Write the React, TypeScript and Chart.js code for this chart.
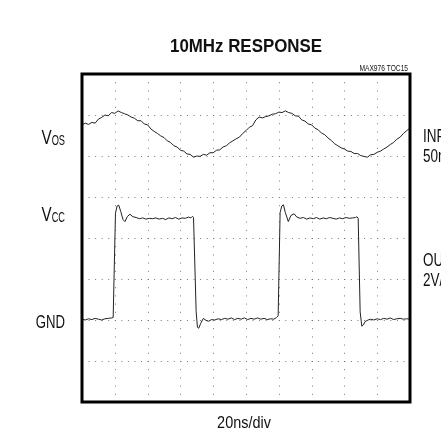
import React, { useEffect, useRef } from "react";
import { Chart, registerables } from "chart.js";

Chart.register(...registerables);

const sineStep = 0.1;
const sineY = [
  6.76, 6.8, 6.77, 6.82, 6.8, 6.9, 6.94, 7.0, 6.98, 7.06,
  7.04, 7.1, 7.06, 7.03, 7.0, 6.95, 6.92, 6.86, 6.86, 6.78,
  6.76, 6.66, 6.6, 6.55, 6.49, 6.45, 6.37, 6.33, 6.25, 6.22,
  6.14, 6.12, 6.05, 6.04, 5.97, 6.0, 5.99, 6.04, 6.02, 6.08,
  6.08, 6.14, 6.15, 6.22, 6.25, 6.32, 6.37, 6.42, 6.46, 6.55,
  6.62, 6.7, 6.74, 6.88, 6.95, 6.93, 6.96, 6.98, 7.02, 7.03,
  7.07, 7.06, 7.1, 7.06, 7.04, 6.98, 6.97, 6.88, 6.85, 6.78,
  6.76, 6.68, 6.64, 6.56, 6.52, 6.44, 6.38, 6.3, 6.25, 6.2,
  6.17, 6.12, 6.11, 6.06, 6.06, 6.01, 5.99, 5.97, 6.03, 6.04,
  6.09, 6.12, 6.17, 6.22, 6.28, 6.33, 6.41, 6.46, 6.55, 6.62,
  6.68,
];

const squareX = [
  0.0, 0.1, 0.2, 0.3, 0.4, 0.5, 0.6, 0.7, 0.8, 0.9, 0.95,
  1.02, 1.07, 1.12, 1.18, 1.25, 1.31, 1.38, 1.46, 1.55, 1.65,
  1.75, 1.85, 1.95, 2.05, 2.15, 2.25, 2.35, 2.45, 2.55, 2.65,
  2.75, 2.85, 2.95, 3.05, 3.15, 3.25, 3.32, 3.37, 3.4,
  3.48, 3.52, 3.56, 3.62, 3.7, 3.78, 3.86, 3.95, 4.05, 4.15,
  4.25, 4.35, 4.45, 4.55, 4.65, 4.75, 4.85, 4.95, 5.05, 5.15,
  5.25, 5.35, 5.45, 5.55, 5.65, 5.75, 5.85, 5.93, 5.98,
  6.04, 6.09, 6.14, 6.2, 6.29, 6.37, 6.47, 6.55, 6.65, 6.75,
  6.85, 6.95, 7.05, 7.15, 7.25, 7.35, 7.45, 7.55, 7.65, 7.75,
  7.85, 7.95, 8.05, 8.15, 8.25, 8.34, 8.38, 8.42,
  8.48, 8.53, 8.58, 8.63, 8.72, 8.8, 8.9, 9.0, 9.1, 9.2,
  9.3, 9.4, 9.5, 9.6, 9.7, 9.8, 9.9, 10.0,
];
const squareY = [
  2.02, 2.0, 2.03, 2.01, 2.04, 2.02, 2.0, 2.03, 2.04, 2.05, 2.06,
  4.6, 4.78, 4.8, 4.65, 4.45, 4.4, 4.52, 4.58, 4.52, 4.5,
  4.47, 4.49, 4.46, 4.48, 4.47, 4.49, 4.46, 4.48, 4.45, 4.49,
  4.47, 4.5, 4.46, 4.49, 4.48, 4.51, 4.49, 4.53, 4.5,
  2.2, 1.82, 1.8, 1.92, 2.04, 1.99, 1.97, 2.01, 2.0, 2.03,
  2.01, 2.04, 2.02, 2.05, 2.01, 2.04, 2.02, 2.05, 2.01, 2.04,
  2.02, 2.05, 2.02, 2.04, 2.01, 2.03, 2.02, 2.06, 2.1,
  4.62, 4.78, 4.81, 4.62, 4.4, 4.55, 4.59, 4.51, 4.48, 4.5,
  4.46, 4.49, 4.47, 4.5, 4.46, 4.49, 4.47, 4.5, 4.48, 4.46,
  4.49, 4.47, 4.5, 4.48, 4.49, 4.5, 4.52, 4.48,
  2.2, 1.85, 1.88, 1.96, 2.0, 2.02, 2.0, 2.03, 2.01, 2.04,
  2.02, 2.05, 2.01, 2.03, 2.04, 2.02, 2.03, 2.02,
];

const xDivisions = 10;
const yDivisions = 8;

const titleText = "10MHz RESPONSE";
const codeText = "MAX976 TOC15";
const xLabelText = "20ns/div";

const FONT = '"Liberation Sans", Arial, sans-serif';

function cond(ctx: CanvasRenderingContext2D, text: string, x: number, y: number, size: number, sx: number, align: CanvasTextAlign, weight = "normal") {
  ctx.font = `${weight} ${size}px ${FONT}`;
  const w = ctx.measureText(text).width * sx;
  ctx.textAlign = align;
  ctx.fillText(text, x, y, w);
  return w;
}

// dotted vertical division lines, drawn through the x scale
const vGridPlugin = {
  id: "vGridPlugin",
  beforeDatasetsDraw(chart: any) {
    const ctx: CanvasRenderingContext2D = chart.ctx;
    const a = chart.chartArea;
    const xs = chart.scales.x;
    ctx.save();
    ctx.strokeStyle = "#777";
    ctx.lineWidth = 1;
    ctx.setLineDash([1, 7.2]);
    for (let i = 1; i < xDivisions; i++) {
      const px = Math.round(xs.getPixelForValue(i)) + 0.5;
      ctx.beginPath();
      ctx.moveTo(px, a.top);
      ctx.lineTo(px, a.bottom);
      ctx.stroke();
    }
    ctx.setLineDash([]);
    ctx.restore();
  },
};

const labelsPlugin = {
  id: "labelsPlugin",
  afterDraw(chart: any) {
    const ctx: CanvasRenderingContext2D = chart.ctx;
    const a = chart.chartArea;
    ctx.save();
    ctx.setLineDash([]);
    ctx.strokeStyle = "#000";
    ctx.lineWidth = 3;
    ctx.beginPath();
    ctx.rect(a.left, a.top, a.right - a.left, a.bottom - a.top);
    ctx.stroke();

    ctx.fillStyle = "#111";
    ctx.textBaseline = "alphabetic";
    ctx.font = `bold 18.5px ${FONT}`;
    const tw = ctx.measureText(titleText).width;
    cond(ctx, titleText, 246, 52, 18.5, 152 / tw, "center", "bold");
    cond(ctx, codeText, 408, 71, 8.5, 0.78, "right");
    cond(ctx, xLabelText, 244, 428, 17, 0.85, "center");

    const sub = (main: string, subs: string, right: number, base: number) => {
      const sw = cond(ctx, subs, right, base + 1, 14, 0.66, "right");
      cond(ctx, main, right - sw, base, 20, 0.76, "right");
    };
    sub("V", "OS", 65, 144);
    sub("V", "CC", 65, 221);
    cond(ctx, "GND", 65, 328, 18, 0.73, "right");

    cond(ctx, "INPUT", 423, 142, 18, 0.75, "left");
    cond(ctx, "50mV/div", 423, 162, 18, 0.75, "left");
    cond(ctx, "OUTPUT", 423, 266, 18, 0.75, "left");
    cond(ctx, "2V/div", 423, 286, 18, 0.75, "left");
    ctx.restore();
  },
};

export default function App() {
  const ref = useRef<HTMLCanvasElement | null>(null);
  useEffect(() => {
    if (!ref.current) return;
    const sineData = sineY.map((y, i) => ({ x: i * sineStep, y }));
    const squareData = squareX.map((x, i) => ({ x, y: squareY[i] }));
    const chart = new Chart(ref.current, {
      type: "scatter",
      data: {
        datasets: [
          { data: sineData, showLine: true, borderColor: "#222", borderWidth: 1, pointRadius: 0, tension: 0 },
          { data: squareData, showLine: true, borderColor: "#222", borderWidth: 1, pointRadius: 0, tension: 0 },
        ],
      },
      options: {
        animation: false,
        responsive: false,
        layout: { padding: { left: 82, right: 31, top: 74, bottom: 30 } },
        plugins: { legend: { display: false }, tooltip: { enabled: false } },
        scales: {
          x: {
            type: "linear",
            min: 0,
            max: xDivisions,
            ticks: { display: false, stepSize: 1 },
            border: { display: false },
            grid: { display: false, drawTicks: false },
          },
          y: {
            type: "linear",
            min: 0,
            max: yDivisions,
            ticks: { display: false, stepSize: 1 },
            border: { display: false, dash: [1, 5.56] },
            grid: { drawTicks: false, color: "#777", lineWidth: 1 },
          },
        },
      },
      plugins: [vGridPlugin, labelsPlugin],
    });
    return () => chart.destroy();
  }, []);
  return (
    <div style={{ position: "fixed", left: 0, top: 0, width: 441, height: 432, background: "#fff" }}>
      <canvas ref={ref} width={441} height={432} style={{ width: 441, height: 432, display: "block" }} />
    </div>
  );
}
